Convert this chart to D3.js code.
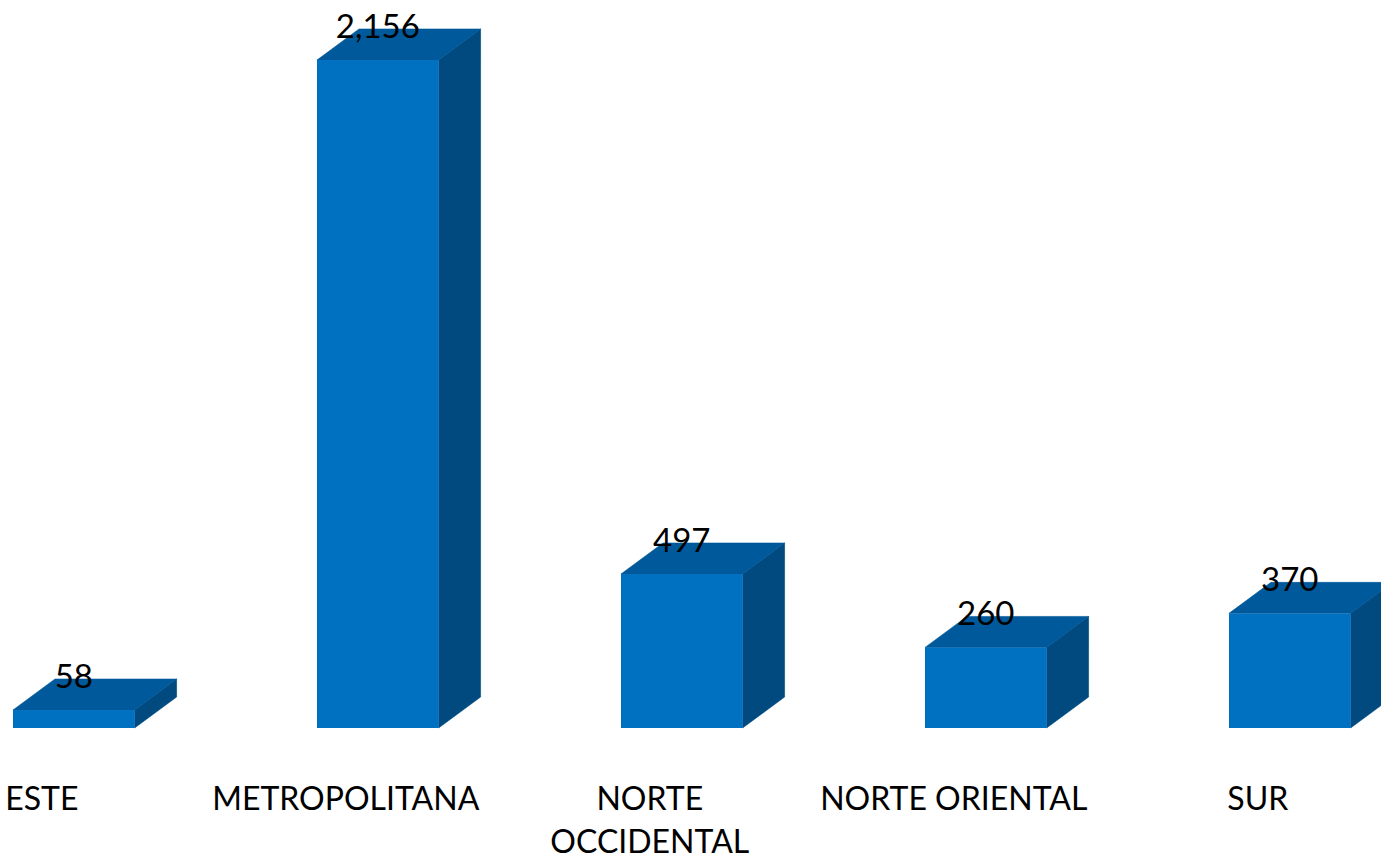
<!DOCTYPE html>
<html>
<head>
<meta charset="utf-8">
<script src="https://cdn.jsdelivr.net/npm/d3@7"></script>
<style>
  body { margin: 0; background: #fff; }
  text { font-family: Lato, "Liberation Sans", sans-serif; fill: #000; }
</style>
</head>
<body>
<svg id="chart" width="1381" height="859"></svg>
<script>
const categories = ['ESTE', 'METROPOLITANA', 'NORTE OCCIDENTAL', 'NORTE ORIENTAL', 'SUR'];
const values = [58, 2156, 497, 260, 370];

const svg = d3.select('#chart');
const baseline = 728;
const plotTop = 60;
const depthX = 42;
const depthY = 31;

const x = d3.scaleBand()
  .domain(categories)
  .range([-108.6, 1472.2])
  .paddingInner(0.6)
  .paddingOuter(0.4);
const y = d3.scaleLinear()
  .domain([0, d3.max(values)])
  .range([baseline, plotTop]);

const data = categories.map((c, i) => ({ cat: c, value: values[i] }));

const g = svg.append('g');

const bars = g.selectAll('.bar')
  .data(data)
  .enter()
  .append('g')
  .attr('class', 'bar');

// right side face
bars.append('path')
  .attr('fill', '#004A7F')
  .attr('stroke', '#004A7F')
  .attr('stroke-width', 0.6)
  .attr('d', d => {
    const x1 = x(d.cat) + x.bandwidth();
    const y0 = y(d.value);
    return `M${x1},${y0} L${x1 + depthX},${y0 - depthY} L${x1 + depthX},${baseline - depthY} L${x1},${baseline} Z`;
  });

// top face
bars.append('path')
  .attr('fill', '#00599A')
  .attr('stroke', '#00599A')
  .attr('stroke-width', 0.6)
  .attr('d', d => {
    const x0 = x(d.cat);
    const x1 = x0 + x.bandwidth();
    const y0 = y(d.value);
    return `M${x0},${y0} L${x0 + depthX},${y0 - depthY} L${x1 + depthX},${y0 - depthY} L${x1},${y0} Z`;
  });

// front face
bars.append('rect')
  .attr('fill', '#0070C0')
  .attr('x', d => x(d.cat))
  .attr('y', d => y(d.value))
  .attr('width', x.bandwidth())
  .attr('height', d => baseline - y(d.value));

// value labels
bars.append('text')
  .attr('text-anchor', 'middle')
  .attr('font-size', 33)
  .attr('x', d => x(d.cat) + x.bandwidth() / 2)
  .attr('y', d => y(d.value) - depthY + 9)
  .text(d => d3.format(',')(d.value));

// category labels
const labelShift = -32;
const labels = g.selectAll('.cat')
  .data(data)
  .enter()
  .append('text')
  .attr('class', 'cat')
  .attr('text-anchor', 'middle')
  .attr('font-size', 32)
  .attr('x', d => x(d.cat) + x.bandwidth() / 2 + labelShift)
  .attr('y', 810)
  .text(d => d.cat);

// wrap long labels
labels.each(function(d) {
  const t = d3.select(this);
  if (this.getComputedTextLength() <= 290) return;
  const words = d.cat.split(' ');
  const cx = t.attr('x');
  t.text(null);
  words.forEach((w, i) => {
    t.append('tspan')
      .attr('x', cx)
      .attr('dy', i === 0 ? 0 : 43)
      .text(w);
  });
});
</script>
</body>
</html>
